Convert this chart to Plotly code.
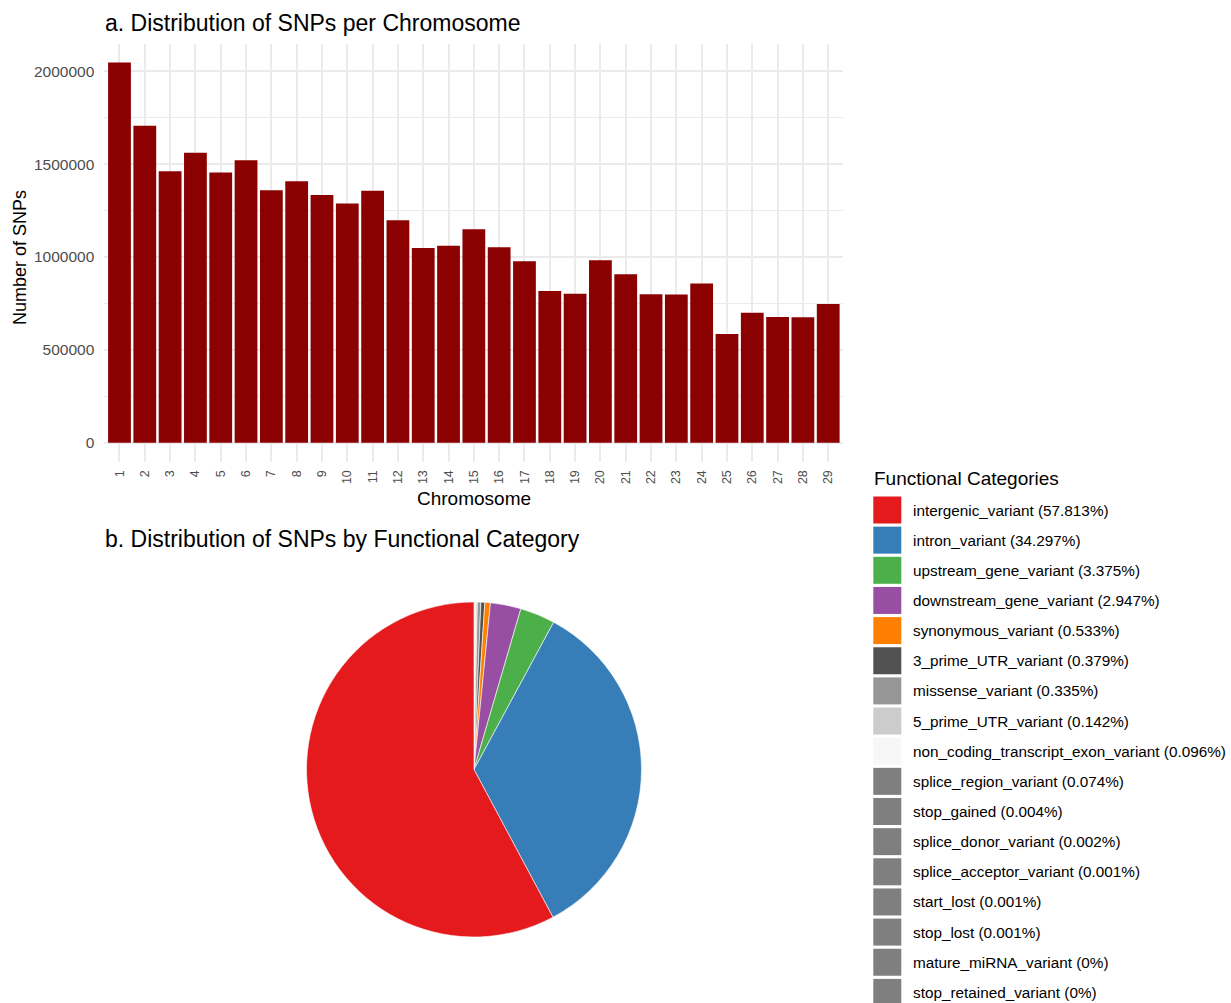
import plotly.graph_objects as go

# ---- Panel a: SNP counts per chromosome ----
chromosomes = [str(i) for i in range(1, 30)]
snp_counts = [
    2047000, 1707000, 1462000, 1562000, 1455000, 1521000, 1359000, 1408000,
    1334000, 1288000, 1357000, 1198000, 1049000, 1061000, 1149000, 1052000,
    977000, 817000, 802000, 982000, 907000, 799000, 798000, 858000,
    585000, 700000, 677000, 675000, 747000,
]
y_ticks = [0, 500000, 1000000, 1500000, 2000000]

# ---- Panel b: functional categories (percent of all SNPs) ----
categories = [
    "intergenic_variant", "intron_variant", "upstream_gene_variant",
    "downstream_gene_variant", "synonymous_variant", "3_prime_UTR_variant",
    "missense_variant", "5_prime_UTR_variant",
    "non_coding_transcript_exon_variant", "splice_region_variant",
    "stop_gained", "splice_donor_variant", "splice_acceptor_variant",
    "start_lost", "stop_lost", "mature_miRNA_variant", "stop_retained_variant",
]
category_pct = [
    57.813, 34.297, 3.375, 2.947, 0.533, 0.379, 0.335, 0.142,
    0.096, 0.074, 0.004, 0.002, 0.001, 0.001, 0.001, 0, 0,
]
category_colors = [
    "#E41A1C", "#377EB8", "#4DAF4A", "#984EA3", "#FF7F00",
    "#525252", "#969696", "#CCCCCC", "#F7F7F7",
] + ["#7F7F7F"] * 8

W, H = 1231, 1003
FONT = "Liberation Sans, Arial, sans-serif"
GRID = "#EBEBEB"


def fx(px):
    return px / W


def fy(py):
    return 1 - py / H


fig = go.Figure()

fig.add_trace(go.Bar(
    x=chromosomes, y=snp_counts,
    marker=dict(color="#8B0000", line=dict(width=0)),
    showlegend=False, hoverinfo="x+y",
))

# Slices run clockwise from 12 o'clock with the smallest categories first,
# so the largest (intergenic) one fills the left side ending at the top.
fig.add_trace(go.Pie(
    labels=categories[::-1], values=category_pct[::-1],
    marker=dict(colors=category_colors[::-1], line=dict(color="white", width=0.6)),
    sort=False, direction="clockwise", rotation=0,
    textinfo="none", showlegend=False,
    domain=dict(x=[fx(306.5), fx(641.5)], y=[fy(937.0), fy(602.0)]),
))

ymax = max(snp_counts)
fig.update_layout(
    width=W, height=H, autosize=False,
    margin=dict(l=0, r=0, t=0, b=0),
    paper_bgcolor="white", plot_bgcolor="white",
    font=dict(family=FONT, color="#000000"),
    bargap=0.1,
    xaxis=dict(
        domain=[fx(104.3), fx(843.4)], type="category",
        range=[-0.6, len(chromosomes) - 0.4],
        showgrid=True, gridcolor=GRID, gridwidth=2,
        showline=False, zeroline=False, ticks="",
        tickangle=-90, tickfont=dict(size=12.5, color="#4D4D4D"),
        ticklabelstandoff=5,
    ),
    yaxis=dict(
        domain=[fy(461.7), fy(43.6)],
        range=[-0.05 * ymax, 1.05 * ymax],
        tickvals=y_ticks, ticktext=[str(v) for v in y_ticks],
        showgrid=True, gridcolor=GRID, gridwidth=2,
        minor=dict(dtick=250000, tick0=0, showgrid=True,
                   gridcolor=GRID, gridwidth=1),
        showline=False, zeroline=False, ticks="",
        tickfont=dict(size=15.5, color="#4D4D4D"),
        ticklabelstandoff=9,
    ),
)

annotations = [
    dict(text="a. Distribution of SNPs per Chromosome", x=fx(103), y=fy(23),
         xanchor="left", yanchor="middle", font=dict(size=23)),
    dict(text="b. Distribution of SNPs by Functional Category", x=fx(103), y=fy(539),
         xanchor="left", yanchor="middle", font=dict(size=23)),
    dict(text="Number of SNPs", x=fx(20), y=fy(258), textangle=-90,
         xanchor="center", yanchor="middle", font=dict(size=18)),
    dict(text="Chromosome", x=fx(474), y=fy(498),
         xanchor="center", yanchor="middle", font=dict(size=19)),
    dict(text="Functional Categories", x=fx(872), y=fy(478),
         xanchor="left", yanchor="middle", font=dict(size=19)),
]

# Legend for the pie: colour keys plus labels with the percentage
shapes = []
key_top0, key_pitch, key_h = 496.5, 30.15, 27.0
for i, (name, pct, col) in enumerate(zip(categories, category_pct, category_colors)):
    top = key_top0 + i * key_pitch
    shapes.append(dict(
        type="rect", xref="paper", yref="paper",
        x0=fx(873.3), x1=fx(901.3), y0=fy(top + key_h), y1=fy(top),
        fillcolor=col, line=dict(width=0), layer="above",
    ))
    annotations.append(dict(
        text=f"{name} ({pct:g}%)", x=fx(910.5), y=fy(top + key_h / 2),
        xanchor="left", yanchor="middle", font=dict(size=15.3),
    ))

for a in annotations:
    a.update(xref="paper", yref="paper", showarrow=False)

fig.update_layout(annotations=annotations, shapes=shapes)

fig.write_html("out.html")
